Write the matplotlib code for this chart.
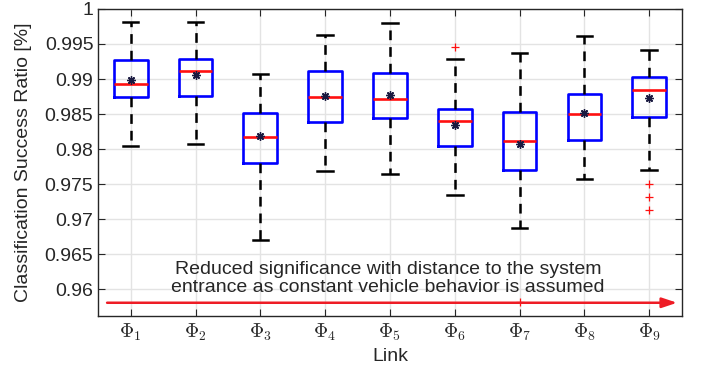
import numpy as np
import matplotlib
matplotlib.use('Agg')
import matplotlib.pyplot as plt

plt.rcParams['font.family'] = ['Liberation Sans', 'DejaVu Sans']
plt.rcParams['mathtext.fontset'] = 'cm'
plt.rcParams['lines.scale_dashes'] = False

# box statistics
links     = [r'$\Phi_{%d}$' % i for i in range(1, 10)]
whislo    = [0.98043, 0.98072, 0.96703, 0.97688, 0.97641, 0.97347, 0.96878, 0.97570, 0.97698]
q1        = [0.98745, 0.98764, 0.97797, 0.98394, 0.98451, 0.98043, 0.97698, 0.98129, 0.98461]
med       = [0.98924, 0.99119, 0.98167, 0.98750, 0.98721, 0.98399, 0.98120, 0.98503, 0.98845]
q3        = [0.99275, 0.99289, 0.98522, 0.99109, 0.99086, 0.98579, 0.98532, 0.98782, 0.99034]
whishi    = [0.99810, 0.99810, 0.99076, 0.99635, 0.99805, 0.99280, 0.99370, 0.99621, 0.99417]
means     = [0.98987, 0.99058, 0.98185, 0.98755, 0.98768, 0.98347, 0.98067, 0.98510, 0.98725]
outliers  = [[], [], [], [], [], [0.9946], [0.95818], [], [0.97509, 0.97314, 0.97125]]

yticks = np.arange(0.96, 1.0001, 0.005)
ytick_labels = ['0.96', '0.965', '0.97', '0.975', '0.98', '0.985', '0.99', '0.995', '1']
note = 'Reduced significance with distance to the system\nentrance as constant vehicle behavior is assumed'

txt_col = '#262626'

fig = plt.figure(figsize=(7.02, 3.73), dpi=100)
ax = fig.add_axes([0.140, 0.153, 0.831, 0.823])

stats = []
for i in range(len(links)):
    stats.append(dict(whislo=whislo[i], q1=q1[i], med=med[i], q3=q3[i],
                      whishi=whishi[i], mean=means[i], fliers=outliers[i]))

pos = np.arange(1, len(links) + 1)
ax.bxp(stats, positions=pos, widths=0.52, showmeans=True, showfliers=True,
       boxprops=dict(color='#0000ff', linewidth=1.9),
       medianprops=dict(color='#ff1010', linewidth=1.9),
       whiskerprops=dict(color='black', linewidth=1.8, linestyle=(0, (7, 5))),
       capprops=dict(color='black', linewidth=1.8),
       capwidths=0.24,
       meanprops=dict(marker=(8, 2, 0), markersize=6, markeredgecolor='#1a1a40',
                      markerfacecolor='#1a1a40', markeredgewidth=1.0, linestyle='none'),
       flierprops=dict(marker='+', markersize=6, markeredgecolor='#ff1010',
                       markeredgewidth=0.9, linestyle='none'),
       zorder=3)

# arrow along the bottom
ax.annotate('', xy=(9.43, 0.95808), xytext=(0.636, 0.95808),
            arrowprops=dict(arrowstyle='-|>,head_length=0.9,head_width=0.3',
                        color='#ee1c25', lw=1.8, shrinkA=0, shrinkB=0), zorder=4)
ax.text(4.97, 0.9591, note, ha='center', va='bottom', fontsize=14,
        color=txt_col, linespacing=1.05, zorder=5)

ax.set_xlim(0.5, 9.5)
ax.set_ylim(0.9562, 1.0)
ax.set_xticks(pos)
ax.set_xticklabels(links, fontsize=17)
ax.set_yticks(yticks)
ax.set_yticklabels(ytick_labels)
ax.tick_params(axis='both', direction='in', length=5, width=0.8, colors=txt_col,
               labelsize=14, top=True, right=True)
ax.tick_params(axis='x', pad=4)
ax.grid(True, color='#e3e3e3', linewidth=1.0, zorder=0)
ax.set_axisbelow(True)
for s in ax.spines.values():
    s.set_color(txt_col)
    s.set_linewidth(1.0)

ax.set_xlabel('Link', fontsize=14, color=txt_col, labelpad=4)
ax.set_ylabel('Classification Success Ratio [%]', fontsize=14, color=txt_col, labelpad=9)

fig.savefig('out.png', dpi=100)
